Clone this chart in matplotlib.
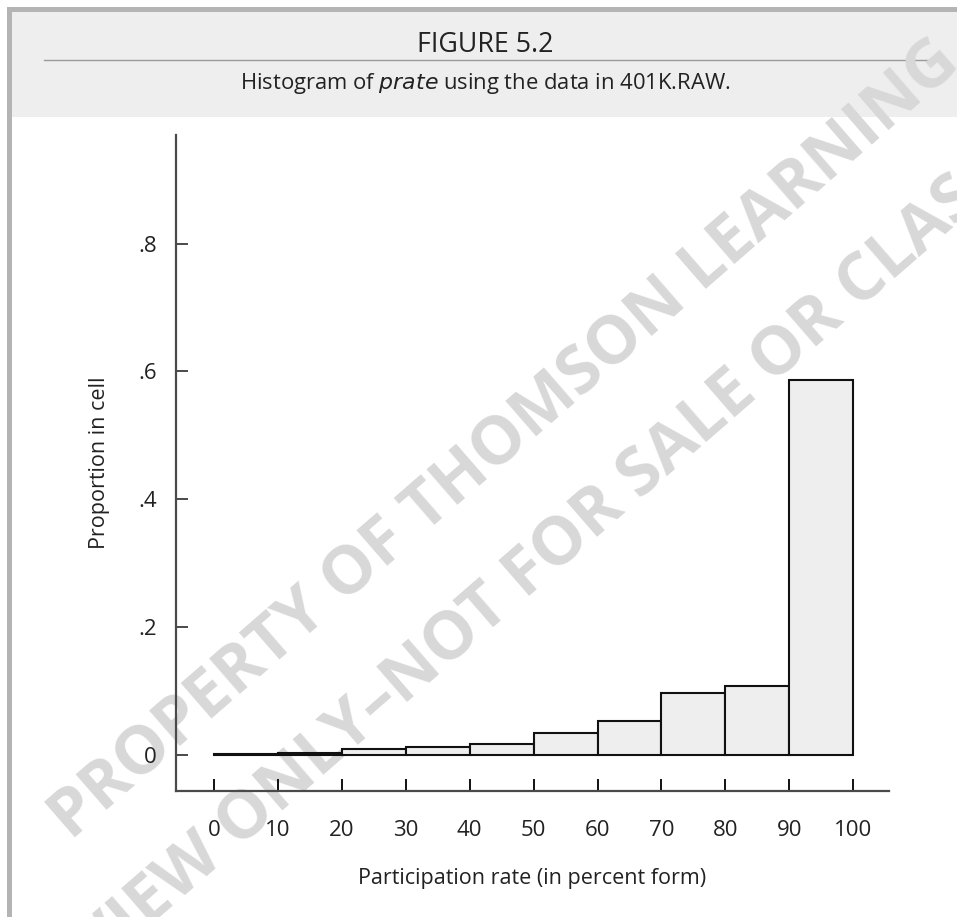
import matplotlib
matplotlib.use("Agg")
import matplotlib.pyplot as plt
from matplotlib.patches import Rectangle
from matplotlib.lines import Line2D

# ---- data ----
bin_edges = [0, 10, 20, 30, 40, 50, 60, 70, 80, 90, 100]
proportions = [0.0015, 0.002, 0.0085, 0.0116, 0.0172, 0.0344, 0.0523, 0.096, 0.107, 0.586]
x_ticks = [0, 10, 20, 30, 40, 50, 60, 70, 80, 90, 100]
x_tick_labels = [str(v) for v in x_ticks]
y_ticks = [0, 0.2, 0.4, 0.6, 0.8]
y_tick_labels = ["0", ".2", ".4", ".6", ".8"]
title = "FIGURE 5.2"
subtitle = r"Histogram of $\it{prate}$ using the data in 401K.RAW."
x_label = "Participation rate (in percent form)"
y_label = "Proportion in cell"
watermark_1 = "PROPERTY OF THOMSON LEARNING"
watermark_2 = "REVIEW ONLY\u2013NOT FOR SALE OR CLASSROOM"

W, H = 957, 917
fig = plt.figure(figsize=(W / 100, H / 100), dpi=100)
fig.patch.set_facecolor("white")
FONT = ["Open Sans", "DejaVu Sans"]
HFONT = ["Liberation Sans Narrow", "Open Sans", "DejaVu Sans"]


def prect(x0, y0, x1, y1, **kw):
    r = Rectangle((x0 / W, 1 - y1 / H), (x1 - x0) / W, (y1 - y0) / H,
                  transform=fig.transFigure, **kw)
    fig.patches.append(r)
    return r


def fx(x):
    return x / W


def fy(y):
    return 1 - y / H


# frame and header band
prect(7, 7, 12, H, facecolor="#b4b4b4", edgecolor="none", zorder=-5)
prect(7, 7, W, 12, facecolor="#b4b4b4", edgecolor="none", zorder=-5)
prect(12, 12, W, 117, facecolor="#eeeeee", edgecolor="none", zorder=-5)
fig.lines.append(Line2D([fx(44), fx(929)], [fy(60), fy(60)], transform=fig.transFigure,
                        color="#9a9a9a", lw=1.0, zorder=-4))

renderer = fig.canvas.get_renderer()


def fit_text(x, y, s, width_px, **kw):
    t = fig.text(fx(x), fy(y), s, fontsize=20, **kw)
    w = t.get_window_extent(renderer).width
    t.set_fontsize(20 * width_px / w)
    return t


fit_text(485, 45, title, 136, ha="center", va="center", family=HFONT, color="#222222")
fit_text(485, 84, subtitle, 491, ha="center", va="center", family=HFONT, color="#222222")

# watermark
t1 = fit_text(505, 440, watermark_1, 1180, ha="center", va="center", family=FONT,
              fontweight="bold", color="#d8d8d8", zorder=-3)
fs = t1.get_fontsize()
t1.set_rotation(41)
t1.set_rotation_mode("anchor")
fig.text(fx(592), fy(518), watermark_2, fontsize=fs, ha="center", va="center",
         family=FONT, fontweight="bold", color="#d8d8d8", zorder=-3,
         rotation=41, rotation_mode="anchor")

# axes
ax = fig.add_axes([fx(176), fy(791), (889 - 176) / W, (791 - 135) / H])
ax.patch.set_visible(False)
ax.bar(bin_edges[:-1], proportions, width=10, align="edge", color="#eeeeee",
       edgecolor="#111111", linewidth=1.5, zorder=3)
ax.set_xlim(-5.94, 105.6)
ax.set_ylim(-0.0568, 0.970)
for s in ("top", "right"):
    ax.spines[s].set_visible(False)
for s in ("left", "bottom"):
    ax.spines[s].set_color("#4a4a4a")
    ax.spines[s].set_linewidth(1.6)
ax.set_xticks(x_ticks)
ax.set_xticklabels(x_tick_labels, family=FONT, fontsize=16, color="#222222")
ax.set_yticks(y_ticks)
ax.set_yticklabels(y_tick_labels, family=FONT, fontsize=16, color="#222222")
ax.tick_params(axis="x", direction="in", length=8.6, width=1.4, color="#111111", pad=21)
ax.tick_params(axis="y", direction="in", length=8.6, width=1.4, color="#4a4a4a", pad=14)
ax.set_xlabel(x_label, family=FONT, fontsize=15.5, color="#222222", labelpad=19)
ax.set_ylabel(y_label, family=FONT, fontsize=15.5, color="#222222", labelpad=20)

fig.savefig("out.png", dpi=100, facecolor="white")
